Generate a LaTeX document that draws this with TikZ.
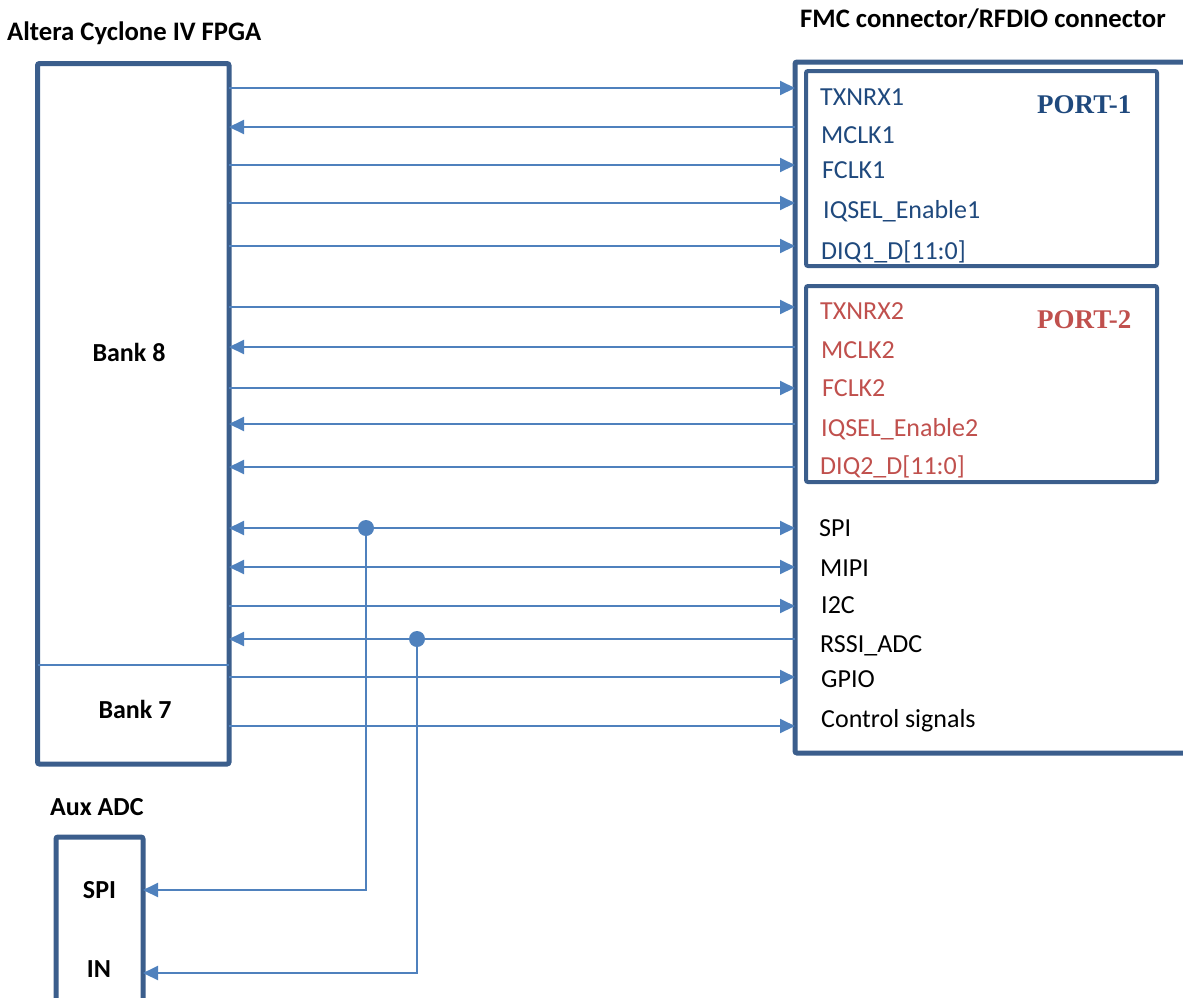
\documentclass[tikz,border=0pt]{standalone}
\usepackage{fontspec}
\setmainfont{Carlito}
\newfontfamily\portfont{Liberation Serif}
\usetikzlibrary{arrows.meta}
\definecolor{boxblue}{RGB}{59,94,140}
\definecolor{linblue}{RGB}{79,129,189}
\definecolor{portblue}{RGB}{31,73,125}
\definecolor{portred}{RGB}{192,80,77}
\tikzset{
  x=1pt,y=-1pt,
  blk/.style={draw=boxblue,line width=5pt,rounded corners=2pt,inner sep=0pt,outer sep=0pt},
  portbox/.style={draw=boxblue,line width=4pt,rounded corners=2pt,inner sep=0pt,outer sep=0pt},
  sig/.style={draw=linblue,line width=2pt},
  tipR/.style={sig,-{Triangle[length=15pt,width=14pt]}},
  tipL/.style={sig,{Triangle[length=15pt,width=14pt]}-},
  tipB/.style={sig,{Triangle[length=15pt,width=14pt]}-{Triangle[length=15pt,width=14pt]}},
  lbl/.style={anchor=base west,inner sep=0pt,font=\fontsize{26}{30}\selectfont},
  ttl/.style={anchor=base west,inner sep=0pt,font=\fontsize{26}{30}\selectfont\bfseries},
  hdr/.style={anchor=base west,inner sep=0pt,font=\fontsize{26.7}{30}\selectfont\bfseries},
  ptl/.style={anchor=base west,inner sep=0pt,font=\fontsize{27}{31}\selectfont\portfont\bfseries},
  dot/.style={circle,fill=linblue,minimum size=16pt,inner sep=0pt}
}
\begin{document}
\begin{tikzpicture}
\useasboundingbox (0,0) rectangle (1183,997);
% boxes
\node[blk,minimum width=191.5pt,minimum height=700.5pt] (fpga) at (133.25,413.75) {};
\draw[draw=linblue,line width=1.5pt] (fpga.west |- 0,665) -- (fpga.east |- 0,665);
\node[blk,minimum width=405pt,minimum height=691pt] (fmc) at (997.5,407.5) {};
\node[portbox,minimum width=351pt,minimum height=195pt] (p1) at (981.5,168.5) {};
\node[portbox,minimum width=351pt,minimum height=196pt] (p2) at (981.5,384) {};
\node[blk,minimum width=87pt,minimum height=180pt] (aux) at (99.5,927) {};
% titles
\node[hdr] (t1) at (7,40) {Altera Cyclone IV FPGA};
\node[hdr] (t2) at (800,27) {FMC connector/RFDIO connector};
\node[ttl] (t3) at (50,815) {Aux ADC};
\node[ttl,anchor=base] (b8) at (129,361) {Bank 8};
\node[ttl,anchor=base] (b7) at (135,718) {Bank 7};
\node[ttl,anchor=base] (as) at (99.5,898) {SPI};
\node[ttl,anchor=base] (ai) at (99,977) {IN};
% port labels
\node[ptl,text=portblue] (pl1) at (1037,113) {PORT-1};
\node[ptl,text=portred] (pl2) at (1037,328) {PORT-2};
\begin{scope}[every node/.append style={lbl,text=portblue}]
\node (s1) at (820,105) {TXNRX1};
\node (s2) at (821,143) {MCLK1};
\node (s3) at (822,178) {FCLK1};
\node (s4) at (823,218) {IQSEL\_Enable1};
\node (s5) at (821,259) {DIQ1\_D[11:0]};
\end{scope}
\begin{scope}[every node/.append style={lbl,text=portred}]
\node (r1) at (820,319) {TXNRX2};
\node (r2) at (821,358) {MCLK2};
\node (r3) at (822,396) {FCLK2};
\node (r4) at (821,436) {IQSEL\_Enable2};
\node (r5) at (820,474) {DIQ2\_D[11:0]};
\end{scope}
\begin{scope}[every node/.append style={lbl,text=black}]
\node (g1) at (819,536) {SPI};
\node (g2) at (820,576) {MIPI};
\node (g3) at (821,613) {I2C};
\node (g4) at (820,652) {RSSI\_ADC};
\node (g5) at (821,687) {GPIO};
\node (g6) at (821,727) {Control signals};
\end{scope}
% signals
\foreach \yy in {88,165,203,246,307,388,606,677,726}
  \draw[tipR] (fpga.east |- 0,\yy) -- (fmc.west |- 0,\yy);
\foreach \yy in {127,347,424,467,639}
  \draw[tipL] (fpga.east |- 0,\yy) -- (fmc.west |- 0,\yy);
\foreach \yy in {528,567}
  \draw[tipB] (fpga.east |- 0,\yy) -- (fmc.west |- 0,\yy);
% taps
\node[dot] (d1) at (366,528) {};
\node[dot] (d2) at (417,639) {};
\draw[tipR] (d1.center) |- (aux.east |- 0,890);
\draw[tipR] (d2.center) |- (aux.east |- 0,973);
\end{tikzpicture}
\end{document}
